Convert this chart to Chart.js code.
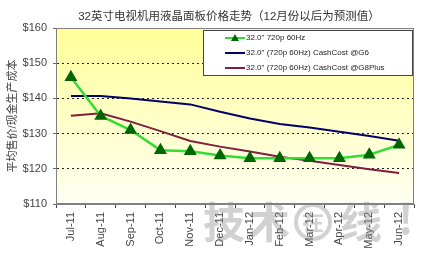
<!DOCTYPE html>
<html>
<head>
<meta charset="utf-8">
<script src="https://cdn.jsdelivr.net/npm/chart.js@4/dist/chart.umd.min.js"></script>
<style>
  body { margin: 0; background: #fff; }
  #wrap { width: 430px; height: 253px; }
</style>
</head>
<body>
<div id="wrap"><canvas id="grafico" width="430" height="253"></canvas></div>
<script>
// dados
const meses = ['Jul-11', 'Aug-11', 'Sep-11', 'Oct-11', 'Nov-11', 'Dec-11', 'Jan-12', 'Feb-12', 'Mar-12', 'Apr-12', 'May-12', 'Jun-12'];
const precoMedio = [146, 135, 131, 125.3, 125, 123.8, 123, 123, 123, 123, 124, 126.8];
const custoG6 = [140.7, 140.7, 140, 139.1, 138.3, 136.2, 134.3, 132.7, 131.7, 130.5, 129.3, 128];
const custoG8Plus = [135.1, 135.8, 133.4, 130.7, 127.9, 126.3, 124.9, 123.4, 122.3, 121.1, 119.9, 118.8];
const nomesSeries = ['32.0" 720p 60Hz', '32.0" (720p 60Hz) CashCost @G6', '32.0" (720p 60Hz) CashCost @G8Plus'];
const ticksY = ['$110', '$120', '$130', '$140', '$150', '$160'];

const titulo = '32英寸电视机用液晶面板价格走势（12月份以后为预测值）';
const fonte = 'Arial, "Liberation Sans", "Noto Sans CJK SC", sans-serif';

// fundo amarelo, borda, título, legenda e marca d'água
const extras = {
  id: 'extras',
  beforeDraw(chart) {
    const { ctx, chartArea: a } = chart;
    ctx.save();
    const g = ctx.createLinearGradient(0, a.top, 0, a.bottom);
    g.addColorStop(0, '#ffff99');
    g.addColorStop(1, '#fffff4');
    ctx.fillStyle = g;
    ctx.fillRect(a.left, a.top, a.right - a.left, a.bottom - a.top);
    ctx.restore();
  },
  afterDraw(chart) {
    const { ctx, chartArea: a } = chart;
    ctx.save();
    // marca d'água
    ctx.fillStyle = 'rgba(140,140,140,0.4)';
    ctx.strokeStyle = 'rgba(140,140,140,0.4)';
    ctx.font = 'bold 42px "Noto Sans CJK SC", sans-serif';
    ctx.textBaseline = 'middle';
    ctx.fillText('技', 203, 222);
    ctx.fillText('术', 248, 222);
    ctx.fillText('线', 340, 222);
    ctx.fillText('!', 398, 218);
    ctx.lineWidth = 4;
    ctx.beginPath();
    ctx.arc(313, 222, 17, 0, Math.PI * 2);
    ctx.stroke();
    ctx.font = 'bold 22px "Noto Sans CJK SC", sans-serif';
    ctx.fillText('在', 302, 222);

    // borda da área do gráfico
    ctx.strokeStyle = '#808080';
    ctx.lineWidth = 1;
    ctx.strokeRect(a.left + 0.5, a.top + 0.5, a.right - a.left - 1, a.bottom - a.top - 1);

    // título
    ctx.fillStyle = '#333';
    ctx.font = '11.5px ' + fonte;
    ctx.textAlign = 'center';
    ctx.fillText(titulo, 229, 17);

    // legenda
    const lx = 203, ly = 30, lw = 209, lh = 45;
    ctx.fillStyle = '#fff';
    ctx.fillRect(lx, ly, lw, lh);
    ctx.strokeStyle = '#444';
    ctx.strokeRect(lx + 0.5, ly + 0.5, lw, lh);
    const cores = ['#33dd33', '#000066', '#7f1f3f'];
    ctx.font = '8px ' + fonte;
    ctx.textAlign = 'left';
    nomesSeries.forEach((nome, i) => {
      const y = 38 + i * 15;
      ctx.strokeStyle = cores[i];
      ctx.lineWidth = 2;
      ctx.beginPath();
      ctx.moveTo(225, y);
      ctx.lineTo(245, y);
      ctx.stroke();
      if (i === 0) {
        ctx.fillStyle = '#006600';
        ctx.beginPath();
        ctx.moveTo(235, y - 4);
        ctx.lineTo(239, y + 3);
        ctx.lineTo(231, y + 3);
        ctx.closePath();
        ctx.fill();
      }
      ctx.fillStyle = '#222';
      ctx.fillText(nome, 246, y);
    });
    ctx.restore();
  }
};

const ctx = document.getElementById('grafico').getContext('2d');
new Chart(ctx, {
  type: 'line',
  data: {
    labels: meses,
    datasets: [
      {
        label: nomesSeries[0],
        data: precoMedio,
        borderColor: '#33dd33',
        borderWidth: 2.5,
        pointStyle: 'triangle',
        pointRadius: 5,
        pointBackgroundColor: '#006600',
        pointBorderColor: '#006600',
        tension: 0
      },
      {
        label: nomesSeries[1],
        data: custoG6,
        borderColor: '#000066',
        borderWidth: 2,
        pointRadius: 0,
        tension: 0
      },
      {
        label: nomesSeries[2],
        data: custoG8Plus,
        borderColor: '#7f1f3f',
        borderWidth: 2,
        pointRadius: 0,
        tension: 0
      }
    ]
  },
  options: {
    responsive: false,
    animation: false,
    layout: { padding: { top: 28, right: 16, left: 0, bottom: 0 } },
    plugins: { legend: { display: false }, tooltip: { enabled: false } },
    scales: {
      x: {
        offset: true,
        afterFit: s => { s.height = 49; },
        grid: { display: true, drawOnChartArea: false, offset: true, tickLength: 4, color: '#444' },
        border: { color: '#808080' },
        ticks: {
          maxRotation: 90, minRotation: 90, autoSkip: false, padding: 4,
          color: '#444', font: { size: 11, family: fonte }
        }
      },
      y: {
        min: 110, max: 160,
        afterFit: s => { s.width = 56; },
        grid: {
          color: ctx => (ctx.tick.value === 110 || ctx.tick.value === 160) ? 'rgba(0,0,0,0)' : '#222',
          tickColor: '#666', tickLength: 3, tickBorderDash: [], borderDash: [2, 3]
        },
        border: { color: '#808080', dash: [2, 3] },
        ticks: {
          stepSize: 10, padding: 6,
          color: '#444', font: { size: 11, family: fonte },
          callback: (v, i) => ticksY[i]
        },
        title: {
          display: true, text: '平均售价/现金生产成本',
          color: '#444', font: { size: 11, family: fonte }, padding: { top: 6, bottom: 2 }
        }
      }
    }
  },
  plugins: [extras]
});
</script>
</body>
</html>
